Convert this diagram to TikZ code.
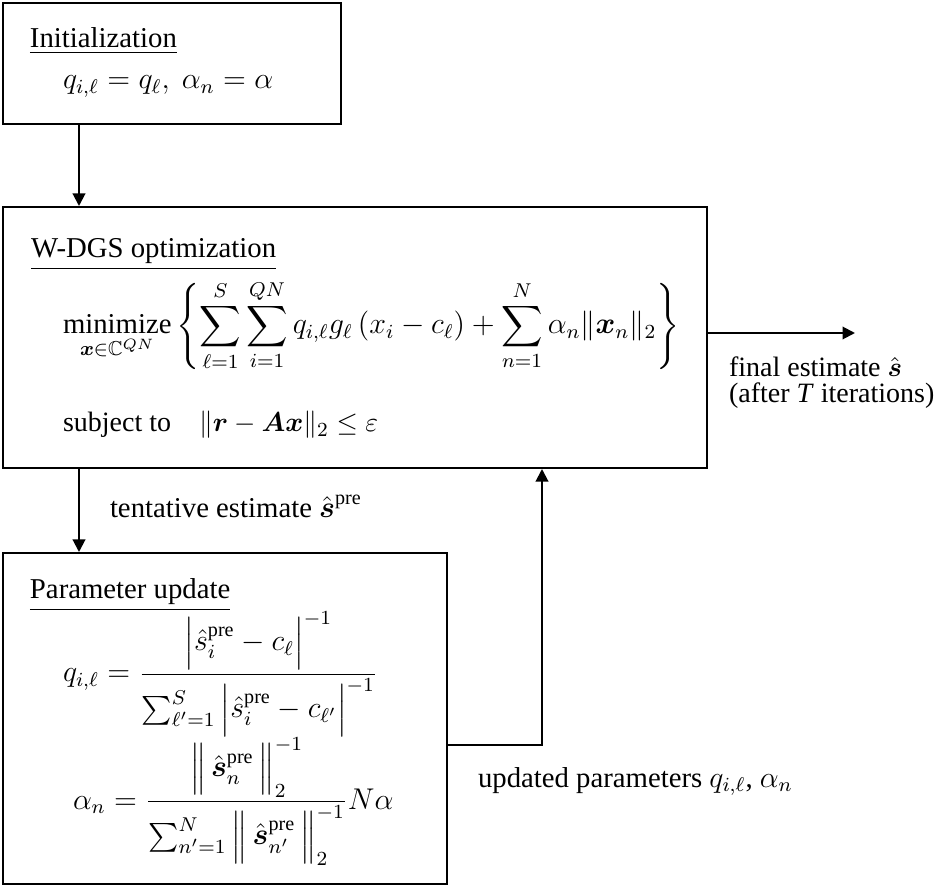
\documentclass[tikz,border=0pt]{standalone}
\usepackage{amsmath,amssymb}
\usepackage{fontspec}
\setmainfont{Liberation Serif}
\usetikzlibrary{arrows.meta,positioning}

\begin{document}
\begin{tikzpicture}[x=0.4pt, y=-0.4pt, font=\fontsize{11.5}{13.5}\selectfont, line width=0.8pt, >={Triangle[length=5pt,width=5pt]},
  box/.style={draw, rectangle, inner sep=0pt, anchor=north west},
  txt/.style={inner sep=0pt, anchor=base west},
  small/.style={font=\fontsize{11.2}{13}\selectfont}]
\useasboundingbox (0,0) rectangle (941,885);
% the three blocks
\node[box, minimum width=135.2pt, minimum height=48.4pt] (init) at (2,2) {};
\node[box, minimum width=281.6pt, minimum height=104.4pt] (wdgs) at (2,206) {};
\node[box, minimum width=177.6pt, minimum height=132.4pt] (update) at (2,552) {};
% block contents
\node[txt] (inithead) at (29,48) {\underline{Initialization}};
\node[txt] (initeq) at (62,89) {$q_{i,\ell} = q_{\ell},\ \alpha_n = \alpha$};
\node[txt] (wdgshead) at (30,258) {\underline{W-DGS optimization}};
\node[txt] (objective) at (62,334) {$\displaystyle \operatorname*{minimize}_{\boldsymbol{x}\in\mathbb{C}^{QN}} \left\{ \sum_{\ell=1}^{S}\sum_{i=1}^{QN} q_{i,\ell} g_{\ell}\left(x_i - c_{\ell}\right) + \sum_{n=1}^{N}\alpha_n \|\boldsymbol{x}_n\|_2 \right\}$};
\node[txt, small] (constraint) at (62,432) {subject to\quad $\|\boldsymbol{r}-\boldsymbol{A}\boldsymbol{x}\|_2 \le \varepsilon$};
\node[txt] (updhead) at (29,599) {\underline{Parameter update}};
\node[txt] (qeq) at (62,682) {$q_{i,\ell} = \dfrac{\Bigl|\hat{s}_i^{\mathrm{pre}} - c_{\ell}\Bigr|^{-1}}{\sum_{\ell'=1}^{S}\,\Bigl|\hat{s}_i^{\mathrm{pre}} - c_{\ell'}\Bigr|^{-1}}$};
\node[txt] (aeq) at (72,809) {$\alpha_n = \dfrac{\Bigl\|\,\hat{\boldsymbol{s}}_n^{\mathrm{pre}}\,\Bigr\|_2^{-1}}{\sum_{n'=1}^{N}\,\Bigl\|\,\hat{\boldsymbol{s}}_{n'}^{\mathrm{pre}}\,\Bigr\|_2^{-1}}N\alpha$};
% connectors
\coordinate (down) at (79,0);
\coordinate (back) at (542,745);
\coordinate (out) at (706,333);
\coordinate (outend) at (855,333);
\draw[->] (down |- init.south) -- (down |- wdgs.north);
\draw[->] (down |- wdgs.south) -- (down |- update.north);
\draw[->] (update.east |- back) -- (back) -- (back |- wdgs.south);
\draw[->] (wdgs.east |- out) -- (outend);
% labels
\node[txt] (tentative) at (109,518) {tentative estimate $\hat{\boldsymbol{s}}^{\mathrm{pre}}$};
\node[txt, small] (final) at (728,377) {final estimate $\hat{\boldsymbol{s}}$};
\node[txt, small] (iters) at (728,403) {(after \textit{T} iterations)};
\node[txt] (updated) at (477,787) {updated parameters $q_{i,\ell}$,\ $\alpha_n$};
\end{tikzpicture}
\end{document}
